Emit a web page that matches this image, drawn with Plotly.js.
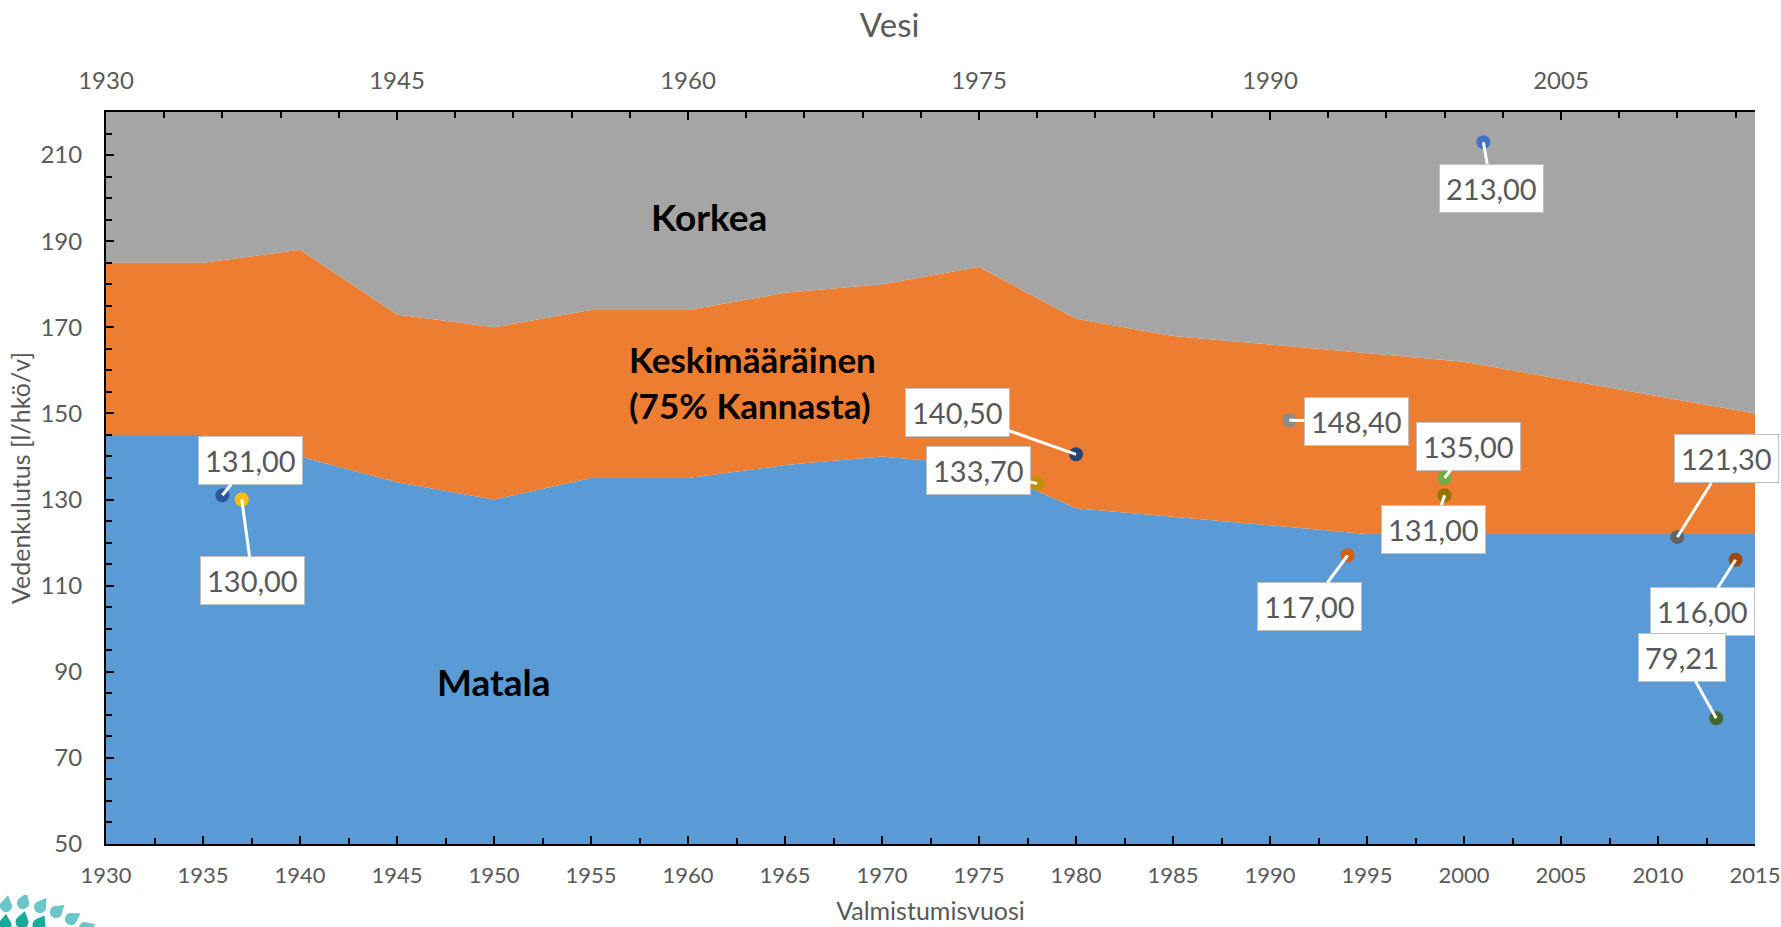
<!DOCTYPE html>
<html>
<head>
<meta charset="utf-8">
<script src="https://cdn.plot.ly/plotly-3.0.1.min.js"></script>
<style>html,body{margin:0;padding:0;background:#fff;}#chart{width:1781px;height:927px;}</style>
</head>
<body>
<div id="chart"></div>
<script>
// ---- data ----
const years = [1930,1935,1940,1945,1950,1955,1960,1965,1970,1975,1980,1985,1990,1995,2000,2005,2010,2015];
const matala = [145,145,140,134,130,135,135,138,140,138,128,126,124,122,122,122,122,122];
const keskimaarainen = [185,185,188,173,170,174,174,178,180,184,172,168,166,164,162,158,154,150];
const korkea = [220,220,220,220,220,220,220,220,220,220,220,220,220,220,220,220,220,220];

const pointYears  = [1936,1937,1980,1978,1991,1994,1999,1999,2001,2011,2014,2013];
const pointValues = [131,130,140.5,133.7,148.4,117,135,131,213,121.3,116,79.21];
const pointLabels = ['131,00','130,00','140,50','133,70','148,40','117,00','135,00','131,00','213,00','121,30','116,00','79,21'];

const areaNames = ['Matala','Keskimääräinen<br>(75% Kannasta)','Korkea'];
const chartTitle = 'Vesi';
const xTitle = 'Valmistumisvuosi';
const yTitle = 'Vedenkulutus [l/hkö/v]';

// ---- styling ----
const pointColors = ['#2F55A0','#FFC000','#264478','#BF9000','#8C8C8C','#D26012','#70AD47','#997300','#4472C4','#636363','#9E480E','#43682B'];
const labelOffsets = [[28,-35],[11,81],[-119,-42],[-59,-13],[67,1],[-38,51],[24,-32],[-11,34],[8,46],[49,-78],[-33,52],[-34,-61]];
const txt = '#595959';
const FONT = 'Lato, "Open Sans", sans-serif';

const traces = [
  {x:years, y:matala, type:'scatter', mode:'lines', line:{width:0,color:'#5B9BD5'}, fill:'tozeroy', fillcolor:'#5B9BD5', hoverinfo:'skip'},
  {x:years, y:keskimaarainen, type:'scatter', mode:'lines', line:{width:0,color:'#ED7D31'}, fill:'tonexty', fillcolor:'#ED7D31', hoverinfo:'skip'},
  {x:years, y:korkea, type:'scatter', mode:'lines', line:{width:0,color:'#A5A5A5'}, fill:'tonexty', fillcolor:'#A5A5A5', hoverinfo:'skip'},
  {x:pointYears, y:pointValues, type:'scatter', mode:'markers', marker:{size:14, color:pointColors}, cliponaxis:false},
  {x:[years[0], years[years.length-1]], y:[matala[0], matala[0]], xaxis:'x2', type:'scatter', mode:'markers', marker:{opacity:0}, hoverinfo:'skip'}
];

const annotations = pointYears.map((yr,i)=>({
  x:yr, y:pointValues[i], xref:'x', yref:'y', text:pointLabels[i],
  showarrow:true, arrowhead:0, arrowwidth:3, arrowcolor:'#FFFFFF', standoff:0,
  ax:labelOffsets[i][0], ay:labelOffsets[i][1],
  bgcolor:'#FFFFFF', bordercolor:'#BFBFBF', borderwidth:1, borderpad:6,
  font:{family:FONT, size:29, color:txt}
}));
annotations.push(
  {x:1950.0, y:87.7, xref:'x', yref:'y', text:'<b>'+areaNames[0]+'</b>', showarrow:false, font:{family:FONT, size:37, color:'#000'}},
  {x:1956.86, y:157.4, xref:'x', yref:'y', text:'<b>'+areaNames[1]+'</b>', showarrow:false, xanchor:'left', align:'left', font:{family:FONT, size:35, color:'#000'}},
  {x:1961.1, y:195.75, xref:'x', yref:'y', text:'<b>'+areaNames[2]+'</b>', showarrow:false, font:{family:FONT, size:37, color:'#000'}}
);

// logo (decorative drops) as inline svg
function drop(cx,cy,r,ang,d,col){
  const a = ang*Math.PI/180, b = Math.acos(r/d);
  const tx = cx + d*Math.cos(a), ty = cy + d*Math.sin(a);
  const p1x = cx + r*Math.cos(a-b), p1y = cy + r*Math.sin(a-b);
  const p2x = cx + r*Math.cos(a+b), p2y = cy + r*Math.sin(a+b);
  return `<path d="M${tx},${ty} L${p1x},${p1y} A${r},${r} 0 1 0 ${p2x},${p2y} Z" fill="${col}"/>`;
}
const light = '#6CC6C9', dark = '#1AAA9C';
let svg = `<svg xmlns="http://www.w3.org/2000/svg" width="100" height="32" viewBox="0 895 100 32">`;
svg += drop(6,906,6,-80,11,light)+drop(23,903,6,-70,11,light)+drop(40,907,6,-55,11,light)+drop(56,912,6,-40,11,light)+drop(71,919,6,-30,11,light)+drop(85,928,6,-20,11,light);
svg += drop(5,925,6.5,-85,11,dark)+drop(22,922,6.5,-75,11,dark)+drop(39,925,6.5,-60,11,dark);
svg += `</svg>`;
const logoSrc = 'data:image/svg+xml;base64,' + btoa(svg);

const tickCommon = {ticks:'inside', ticklen:8, tickwidth:2, tickcolor:'#000', showline:true, linecolor:'#000', linewidth:2, showgrid:false, zeroline:false, ticklabeloverflow:'allow', tickfont:{family:FONT, size:24, color:txt}};

const layout = {
  width:1781, height:927,
  margin:{l:106, r:26, t:112, b:83},
  paper_bgcolor:'#FFFFFF', plot_bgcolor:'#FFFFFF',
  font:{family:FONT, color:txt},
  showlegend:false,
  title:{text:chartTitle, font:{family:FONT, size:33, color:txt}, x:0.4995, xref:'container', xanchor:'center', y:0.973, yref:'container', yanchor:'middle'},
  xaxis:Object.assign({}, tickCommon, {range:[1930,2015], tick0:1930, dtick:5, ticklabelstandoff:11,
    tickfont:{family:FONT, size:22, color:txt},
    minor:{tick0:1930, dtick:2.5, ticks:'inside', ticklen:6, tickwidth:2, tickcolor:'#000'},
    title:{text:xTitle, font:{family:FONT, size:25, color:txt}, standoff:15}}),
  xaxis2:Object.assign({}, tickCommon, {overlaying:'x', side:'top', anchor:'y', range:[1930,2015], tick0:1930, dtick:15, ticklabelstandoff:11,
    minor:{tick0:1930, dtick:3, ticks:'inside', ticklen:6, tickwidth:2, tickcolor:'#000'}}),
  yaxis:Object.assign({}, tickCommon, {range:[50,220], tick0:50, dtick:20, ticklabelstandoff:17,
    minor:{tick0:50, dtick:5, ticks:'inside', ticklen:6, tickwidth:2, tickcolor:'#000'},
    title:{text:yTitle, font:{family:FONT, size:25, color:txt}, standoff:3}}),
  annotations:annotations,
  images:[{source:logoSrc, xref:'paper', yref:'paper', x:-106/1649, y:(844-895)/732, sizex:100/1649, sizey:32/732, xanchor:'left', yanchor:'top', sizing:'stretch', layer:'above'}]
};

Plotly.newPlot('chart', traces, layout, {displayModeBar:false, staticPlot:true});
</script>
</body>
</html>
